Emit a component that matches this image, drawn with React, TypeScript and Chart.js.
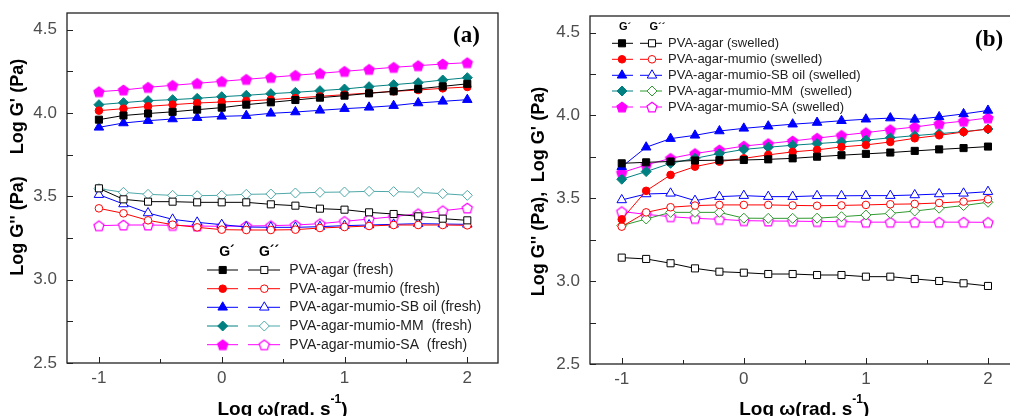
import React, { useEffect, useRef } from 'react';
import { Chart, registerables } from 'chart.js';
import { drawPoint } from 'chart.js/helpers';

Chart.register(...registerables);

// ---------- data ----------
const logOmega = [-1, -0.8, -0.6, -0.4, -0.2, 0, 0.2, 0.4, 0.6, 0.8, 1, 1.2, 1.4, 1.6, 1.8, 2];
const yTickLabels = [2.5, 3.0, 3.5, 4.0, 4.5];
const yMinorTicks = [2.75, 3.25, 3.75, 4.25];
const xTickLabels = [-1, 0, 1, 2];
const xMinorTicks = [-0.5, 0.5, 1.5];

const freshNames = [
  'PVA-agar (fresh)',
  'PVA-agar-mumio (fresh)',
  'PVA-agar-mumio-SB oil (fresh)',
  'PVA-agar-mumio-MM  (fresh)',
  'PVA-agar-mumio-SA  (fresh)',
];
const swelledNames = [
  'PVA-agar (swelled)',
  'PVA-agar-mumio (swelled)',
  'PVA-agar-mumio-SB oil (swelled)',
  'PVA-agar-mumio-MM  (swelled)',
  'PVA-agar-mumio-SA (swelled)',
];

// (a) fresh, G'
const freshAgarGp = [3.96, 3.985, 3.997, 4.007, 4.02, 4.032, 4.05, 4.064, 4.078, 4.092, 4.104, 4.118, 4.13, 4.145, 4.16, 4.175];
const freshMumioGp = [4.014, 4.026, 4.04, 4.05, 4.06, 4.066, 4.072, 4.08, 4.09, 4.1, 4.11, 4.12, 4.13, 4.138, 4.148, 4.156];
const freshSbGp = [3.914, 3.94, 3.954, 3.964, 3.972, 3.98, 3.984, 3.998, 4.006, 4.016, 4.026, 4.034, 4.044, 4.06, 4.07, 4.08];
const freshMmGp = [4.05, 4.062, 4.074, 4.08, 4.088, 4.098, 4.106, 4.116, 4.124, 4.134, 4.144, 4.158, 4.17, 4.182, 4.198, 4.212];
const freshSaGp = [4.128, 4.138, 4.154, 4.166, 4.178, 4.19, 4.202, 4.214, 4.226, 4.238, 4.25, 4.262, 4.274, 4.284, 4.294, 4.302];
// (a) fresh, G''
const freshAgarGpp = [3.548, 3.482, 3.468, 3.468, 3.464, 3.464, 3.464, 3.452, 3.444, 3.426, 3.42, 3.404, 3.394, 3.38, 3.366, 3.356];
const freshMumioGpp = [3.428, 3.398, 3.356, 3.33, 3.314, 3.3, 3.298, 3.298, 3.3, 3.31, 3.316, 3.322, 3.328, 3.328, 3.328, 3.326];
const freshSbGpp = [3.51, 3.454, 3.4, 3.362, 3.344, 3.33, 3.316, 3.314, 3.314, 3.318, 3.324, 3.328, 3.332, 3.336, 3.334, 3.332];
const freshMmGpp = [3.546, 3.524, 3.512, 3.506, 3.504, 3.506, 3.512, 3.514, 3.52, 3.524, 3.526, 3.53, 3.528, 3.524, 3.516, 3.506];
const freshSaGpp = [3.324, 3.328, 3.328, 3.326, 3.322, 3.32, 3.322, 3.324, 3.328, 3.336, 3.35, 3.364, 3.378, 3.396, 3.414, 3.43];

// (b) swelled, G'
const swAgarGp = [3.711, 3.717, 3.722, 3.728, 3.73, 3.731, 3.735, 3.741, 3.751, 3.76, 3.768, 3.776, 3.786, 3.795, 3.803, 3.812];
const swMumioGp = [3.373, 3.545, 3.641, 3.691, 3.721, 3.741, 3.762, 3.78, 3.792, 3.81, 3.822, 3.84, 3.862, 3.88, 3.9, 3.918];
const swSbGp = [3.69, 3.808, 3.86, 3.88, 3.906, 3.922, 3.935, 3.947, 3.957, 3.968, 3.977, 3.984, 3.976, 3.991, 4.009, 4.03];
const swMmGp = [3.615, 3.661, 3.711, 3.741, 3.77, 3.795, 3.808, 3.82, 3.83, 3.84, 3.851, 3.865, 3.878, 3.89, 3.902, 3.918];
const swSaGp = [3.655, 3.701, 3.741, 3.77, 3.792, 3.815, 3.83, 3.846, 3.863, 3.88, 3.896, 3.914, 3.93, 3.95, 3.966, 3.985];
// (b) swelled, G''
const swAgarGpp = [3.142, 3.134, 3.108, 3.077, 3.057, 3.051, 3.043, 3.043, 3.037, 3.037, 3.027, 3.027, 3.013, 3.001, 2.987, 2.971];
const swMumioGpp = [3.329, 3.415, 3.446, 3.456, 3.46, 3.46, 3.46, 3.457, 3.455, 3.457, 3.46, 3.464, 3.466, 3.472, 3.48, 3.494];
const swSbGpp = [3.49, 3.526, 3.53, 3.486, 3.51, 3.516, 3.51, 3.51, 3.515, 3.515, 3.516, 3.516, 3.52, 3.526, 3.53, 3.54];
const swMmGpp = [3.335, 3.375, 3.415, 3.415, 3.415, 3.38, 3.379, 3.379, 3.38, 3.389, 3.399, 3.409, 3.423, 3.44, 3.456, 3.476];
const swSaGpp = [3.42, 3.403, 3.389, 3.379, 3.373, 3.365, 3.363, 3.362, 3.36, 3.359, 3.356, 3.356, 3.356, 3.356, 3.356, 3.355];

// ---------- styles ----------
const SANS = "'Liberation Sans', Arial, Helvetica, sans-serif";
const SERIF = "'Liberation Serif', 'Times New Roman', serif";
const gpColors = ['#000000', '#ff0000', '#0000ff', '#008080', '#ff00ff'];
const freshGppColors = ['#000000', '#ff0000', '#0000ff', '#4fa8a8', '#ff00ff'];
const swelledGppColors = ['#000000', '#ff0000', '#0000ff', '#2f9a2f', '#ff00ff'];
const pointShapes = ['rect', 'circle', 'triangle', 'rectRot', 'pentagon'];
const pointRadii = [5, 3.8, 5.5, 5, 5.3];

function makePentagon(fill: string, stroke: string, r = 5.3) {
  const size = Math.ceil(r * 2 + 3);
  const c = document.createElement('canvas');
  c.width = size;
  c.height = size;
  const g = c.getContext('2d')!;
  const cx = size / 2;
  const cy = size / 2 + r * 0.1;
  g.beginPath();
  for (let i = 0; i < 5; i++) {
    const a = -Math.PI / 2 + (i * 2 * Math.PI) / 5;
    const px = cx + r * Math.cos(a);
    const py = cy + r * Math.sin(a);
    if (i === 0) g.moveTo(px, py);
    else g.lineTo(px, py);
  }
  g.closePath();
  g.fillStyle = fill;
  g.fill();
  g.lineWidth = 1.2;
  g.strokeStyle = stroke;
  g.stroke();
  return c;
}

type Panel = {
  id: string;
  names: string[];
  gp: number[][];
  gpp: number[][];
  gppColors: string[];
  label: string;
  labelX: number;
  labelY: number;
  padTop: number;
  padRight: number;
  yAxisWidth: number;
  xAxisHeight: number;
  yTitleX: number;
  yTitles: { text: string; y: number }[];
  legend: {
    headerY: number;
    headerFont: number;
    h1X: number;
    h2X: number;
    rowsY: number[];
    seg1: [number, number];
    m1: number;
    seg2: [number, number];
    m2: number;
    textX: number;
    font: number;
  };
};

function decorPlugin(p: Panel, shapes: { filled: any[]; open: any[] }) {
  return {
    id: 'decor' + p.id,
    afterDraw(chart: any) {
      const ctx: CanvasRenderingContext2D = chart.ctx;
      const { left, right, top, bottom } = chart.chartArea;
      const xs = chart.scales.x;
      const ys = chart.scales.y;
      ctx.save();
      // frame
      ctx.strokeStyle = '#222';
      ctx.lineWidth = 1.3;
      ctx.strokeRect(left, top, right - left, bottom - top);
      // inward ticks
      ctx.lineWidth = 1;
      ctx.beginPath();
      yTickLabels.forEach((v) => {
        const py = Math.round(ys.getPixelForValue(v)) + 0.5;
        ctx.moveTo(left, py);
        ctx.lineTo(left + 6, py);
      });
      yMinorTicks.forEach((v) => {
        const py = Math.round(ys.getPixelForValue(v)) + 0.5;
        ctx.moveTo(left, py);
        ctx.lineTo(left + 6, py);
      });
      xTickLabels.forEach((v) => {
        const px = Math.round(xs.getPixelForValue(v)) + 0.5;
        ctx.moveTo(px, bottom);
        ctx.lineTo(px, bottom - 6);
      });
      xMinorTicks.forEach((v) => {
        const px = Math.round(xs.getPixelForValue(v)) + 0.5;
        ctx.moveTo(px, bottom);
        ctx.lineTo(px, bottom - 4);
      });
      ctx.stroke();

      // y titles
      ctx.fillStyle = '#000';
      ctx.font = `bold 18px ${SANS}`;
      ctx.textAlign = 'center';
      ctx.textBaseline = 'middle';
      p.yTitles.forEach((t) => {
        ctx.save();
        ctx.translate(p.yTitleX, t.y);
        ctx.rotate(-Math.PI / 2);
        ctx.fillText(t.text, 0, 0);
        ctx.restore();
      });

      // x title with superscript
      const main = 'Log ω(rad. s';
      const sup = '-1';
      const close = ')';
      ctx.textAlign = 'left';
      ctx.textBaseline = 'alphabetic';
      ctx.font = `bold 19px ${SANS}`;
      const w1 = ctx.measureText(main).width;
      const w3 = ctx.measureText(close).width;
      ctx.font = `bold 12px ${SANS}`;
      const w2 = ctx.measureText(sup).width;
      const cx = (left + right) / 2;
      let sx = cx - (w1 + w2 + w3) / 2;
      const base = 415;
      ctx.font = `bold 19px ${SANS}`;
      ctx.fillText(main, sx, base);
      sx += w1;
      ctx.font = `bold 12px ${SANS}`;
      ctx.fillText(sup, sx, base - 12);
      sx += w2;
      ctx.font = `bold 19px ${SANS}`;
      ctx.fillText(close, sx, base);

      // panel label
      ctx.font = `bold 23px ${SERIF}`;
      ctx.textBaseline = 'middle';
      ctx.fillText(p.label, p.labelX, p.labelY);

      // legend
      const L = p.legend;
      ctx.font = `bold ${L.headerFont}px ${SANS}`;
      ctx.textAlign = 'center';
      ctx.fillText('G´', L.h1X, L.headerY);
      ctx.fillText('G´´', L.h2X, L.headerY);
      ctx.textAlign = 'left';
      ctx.font = `${L.font}px ${SANS}`;
      L.rowsY.forEach((ry, i) => {
        const c1 = gpColors[i];
        const c2 = p.gppColors[i];
        ctx.lineWidth = 1;
        ctx.strokeStyle = c1;
        ctx.beginPath();
        ctx.moveTo(L.seg1[0], ry);
        ctx.lineTo(L.seg1[1], ry);
        ctx.stroke();
        ctx.fillStyle = c1;
        drawPoint(ctx, { pointStyle: shapes.filled[i], radius: pointRadii[i], rotation: 0, borderWidth: 1 } as any, L.m1, ry);
        ctx.strokeStyle = c2;
        ctx.beginPath();
        ctx.moveTo(L.seg2[0], ry);
        ctx.lineTo(L.seg2[1], ry);
        ctx.stroke();
        ctx.fillStyle = '#ffffff';
        drawPoint(ctx, { pointStyle: shapes.open[i], radius: pointRadii[i], rotation: 0, borderWidth: 1 } as any, L.m2, ry);
        ctx.fillStyle = '#222';
        ctx.textBaseline = 'middle';
        ctx.fillText(p.names[i], L.textX, ry);
      });
      ctx.restore();
    },
  };
}

function buildConfig(p: Panel): any {
  const pentFilled = makePentagon('#ff00ff', '#ff00ff');
  const pentOpen = makePentagon('#ffffff', '#ff00ff');
  const filled = pointShapes.map((s) => (s === 'pentagon' ? pentFilled : s));
  const open = pointShapes.map((s) => (s === 'pentagon' ? pentOpen : s));
  const datasets: any[] = [];
  for (let i = 0; i < 5; i++) {
    datasets.push({
      label: p.names[i] + " G'",
      data: logOmega.map((x, k) => ({ x, y: p.gp[i][k] })),
      borderColor: gpColors[i],
      backgroundColor: gpColors[i],
      pointBackgroundColor: gpColors[i],
      pointBorderColor: gpColors[i],
      pointStyle: filled[i],
      pointRadius: pointRadii[i],
      pointBorderWidth: 1,
      borderWidth: 1,
      tension: 0,
    });
  }
  for (let i = 0; i < 5; i++) {
    datasets.push({
      label: p.names[i] + " G''",
      data: logOmega.map((x, k) => ({ x, y: p.gpp[i][k] })),
      borderColor: p.gppColors[i],
      backgroundColor: '#ffffff',
      pointBackgroundColor: '#ffffff',
      pointBorderColor: p.gppColors[i],
      pointStyle: open[i],
      pointRadius: pointRadii[i],
      pointBorderWidth: 1,
      borderWidth: 1,
      tension: 0,
    });
  }
  const tickFont = { family: SANS, size: 17 };
  return {
    type: 'line',
    data: { datasets },
    options: {
      responsive: false,
      animation: false,
      devicePixelRatio: 1,
      events: [],
      layout: { padding: { left: 0, top: p.padTop, right: p.padRight, bottom: 0 } },
      plugins: { legend: { display: false }, tooltip: { enabled: false } },
      scales: {
        x: {
          type: 'linear',
          min: -1.26,
          max: 2.25,
          grid: { display: false, drawTicks: false, tickLength: 0 },
          border: { display: false },
          afterBuildTicks: (s: any) => {
            s.ticks = xTickLabels.map((v) => ({ value: v }));
          },
          ticks: {
            color: '#4d4d4d',
            font: tickFont,
            padding: 5,
            autoSkip: false,
            maxRotation: 0,
            callback: (v: any) => String(Number(v)),
          },
          afterFit: (s: any) => {
            s.height = p.xAxisHeight;
            s.paddingLeft = 0;
            s.paddingRight = 0;
          },
        },
        y: {
          type: 'linear',
          min: 2.5,
          max: 4.6,
          grid: { display: false, drawTicks: false, tickLength: 0 },
          border: { display: false },
          afterBuildTicks: (s: any) => {
            s.ticks = yTickLabels.map((v) => ({ value: v }));
          },
          ticks: {
            color: '#4d4d4d',
            font: tickFont,
            padding: 10,
            autoSkip: false,
            callback: (v: any) => Number(v).toFixed(1),
          },
          afterFit: (s: any) => {
            s.width = p.yAxisWidth;
            s.paddingTop = 0;
            s.paddingBottom = 0;
          },
        },
      },
    },
    plugins: [decorPlugin(p, { filled, open })],
  };
}

const panelA: Panel = {
  id: 'a',
  names: freshNames,
  gp: [freshAgarGp, freshMumioGp, freshSbGp, freshMmGp, freshSaGp],
  gpp: [freshAgarGpp, freshMumioGpp, freshSbGpp, freshMmGpp, freshSaGpp],
  gppColors: freshGppColors,
  label: '(a)',
  labelX: 453,
  labelY: 36,
  padTop: 13,
  padRight: 7,
  yAxisWidth: 67,
  xAxisHeight: 53,
  yTitleX: 18,
  yTitles: [
    { text: "Log G'' (Pa)", y: 226 },
    { text: "Log G' (Pa)", y: 106.5 },
  ],
  legend: {
    headerY: 252,
    headerFont: 14,
    h1X: 227,
    h2X: 269,
    rowsY: [270, 288.7, 307.3, 326, 344.7],
    seg1: [207, 238],
    m1: 222.7,
    seg2: [248, 280],
    m2: 264.3,
    textX: 289.3,
    font: 14,
  },
};

const panelB: Panel = {
  id: 'b',
  names: swelledNames,
  gp: [swAgarGp, swMumioGp, swSbGp, swMmGp, swSaGp],
  gpp: [swAgarGpp, swMumioGpp, swSbGpp, swMmGpp, swSaGpp],
  gppColors: swelledGppColors,
  label: '(b)',
  labelX: 470,
  labelY: 40,
  padTop: 16,
  padRight: 5.4,
  yAxisWidth: 85,
  xAxisHeight: 52,
  yTitleX: 34,
  yTitles: [
    { text: "Log G'' (Pa),", y: 244 },
    { text: "Log G' (Pa)", y: 134.5 },
  ],
  legend: {
    headerY: 27,
    headerFont: 11,
    h1X: 120,
    h2X: 152.5,
    rowsY: [43.3, 59.3, 75.3, 91, 107],
    seg1: [107, 128],
    m1: 117,
    seg2: [135, 157],
    m2: 147,
    textX: 163,
    font: 13,
  },
};

export default function App() {
  const refA = useRef<HTMLCanvasElement>(null);
  const refB = useRef<HTMLCanvasElement>(null);
  useEffect(() => {
    const ca = new Chart(refA.current as HTMLCanvasElement, buildConfig(panelA));
    const cb = new Chart(refB.current as HTMLCanvasElement, buildConfig(panelB));
    return () => {
      ca.destroy();
      cb.destroy();
    };
  }, []);
  return (
    <div
      style={{
        position: 'fixed',
        left: 0,
        top: 0,
        width: 1010,
        height: 416,
        overflow: 'hidden',
        background: '#ffffff',
      }}
    >
      <canvas ref={refA} width={505} height={416} style={{ position: 'absolute', left: 0, top: 0 }} />
      <canvas ref={refB} width={520} height={416} style={{ position: 'absolute', left: 505, top: 0 }} />
    </div>
  );
}
